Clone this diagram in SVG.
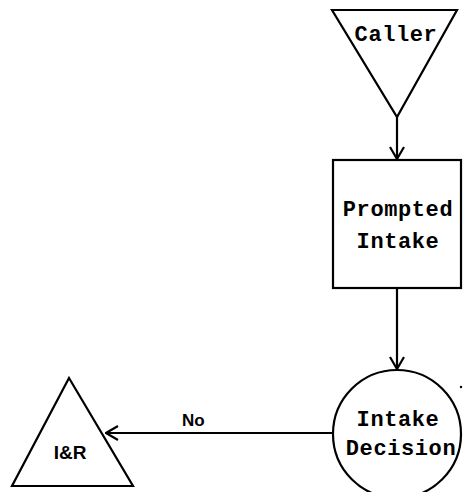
<svg xmlns="http://www.w3.org/2000/svg" width="463" height="492" viewBox="0 0 463 492">
  <defs>
    <marker id="arrow" viewBox="0 0 14 16" refX="13" refY="8" markerWidth="14" markerHeight="16" markerUnits="userSpaceOnUse" orient="auto">
      <path d="M1,1 L13,8 L1,15" fill="none" stroke="#000" stroke-width="2.2"/>
    </marker>
  </defs>
  <style>
    .shape { fill: #fff; stroke: #000; stroke-width: 2.2; }
    .line { fill: none; stroke: #000; stroke-width: 2.2; }
    .tt { font-family: "Liberation Mono", "DejaVu Sans Mono", monospace; font-weight: bold; font-size: 22px; letter-spacing: 0.6px; text-anchor: middle; fill: #000; }
    .lbl { font-family: "Liberation Sans", "DejaVu Sans", sans-serif; font-weight: bold; font-size: 17px; fill: #000; }
  </style>
  <rect width="463" height="492" fill="#fff"/>

  <g id="connectors">
    <path class="line" d="M397,117 L397,159" marker-end="url(#arrow)"/>
    <path class="line" d="M397,288 L397,369" marker-end="url(#arrow)"/>
    <path class="line" d="M333,433 L106,433" marker-end="url(#arrow)"/>
    <text class="lbl" x="182" y="426">No</text>
  </g>

  <g id="caller">
    <polygon class="shape" points="332,10 457,10 397,117"/>
    <text class="tt" x="396" y="41">Caller</text>
  </g>

  <g id="prompted-intake">
    <rect class="shape" x="333" y="160" width="128" height="128"/>
    <text class="tt" x="398" y="216">Prompted</text>
    <text class="tt" x="398" y="248">Intake</text>
  </g>

  <g id="intake-decision">
    <circle class="shape" cx="397" cy="434" r="64"/>
    <text class="tt" x="398" y="426">Intake</text>
    <text class="tt" x="401" y="455">Decision</text>
    <circle cx="461" cy="387" r="1.2" fill="#000"/>
  </g>

  <g id="i-and-r">
    <polygon class="shape" points="69,378 133,486 12,486"/>
    <text x="70" y="459" font-family="Liberation Sans, sans-serif" font-weight="bold" font-size="19" text-anchor="middle">I&amp;R</text>
  </g>
</svg>
